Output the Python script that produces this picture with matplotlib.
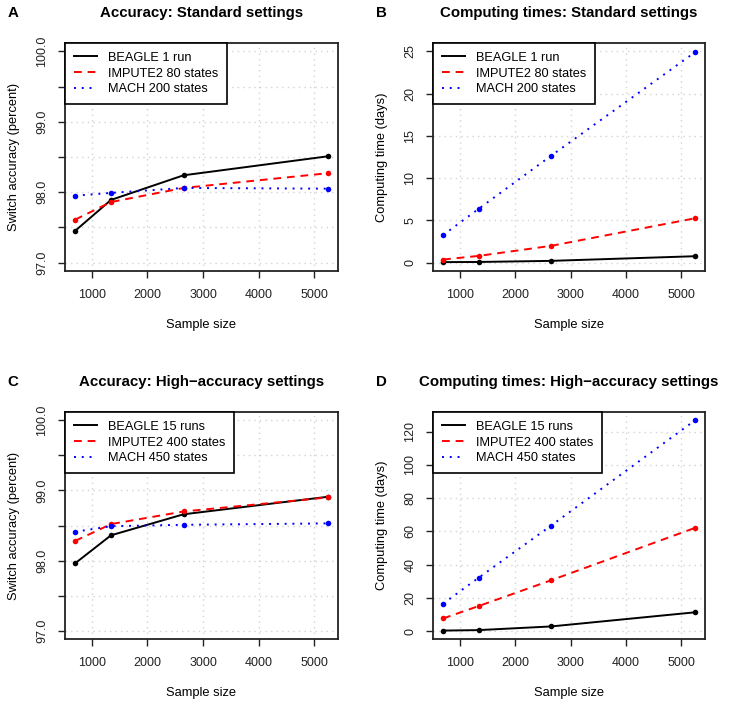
import matplotlib
matplotlib.use("Agg")
import matplotlib.pyplot as plt
import numpy as np

plt.rcParams['font.family'] = ['Liberation Sans', 'DejaVu Sans']

# sample sizes (x axis)
sample_size = [700, 1345, 2650, 5245]

# A: accuracy, standard settings
acc_std_beagle = [97.45, 97.89, 98.24, 98.51]
acc_std_impute = [97.61, 97.86, 98.06, 98.27]
acc_std_mach = [97.95, 97.99, 98.06, 98.05]

# B: computing time (days), standard settings
time_std_beagle = [0.05, 0.07, 0.20, 0.75]
time_std_impute = [0.36, 0.79, 1.98, 5.24]
time_std_mach = [3.25, 6.38, 12.65, 24.9]

# C: accuracy, high-accuracy settings
acc_hi_beagle = [97.96, 98.36, 98.66, 98.91]
acc_hi_impute = [98.28, 98.52, 98.70, 98.90]
acc_hi_mach = [98.41, 98.49, 98.51, 98.53]

# D: computing time (days), high-accuracy settings
time_hi_beagle = [0.3, 0.6, 2.8, 11.3]
time_hi_impute = [7.6, 15.1, 30.6, 62.1]
time_hi_mach = [16.5, 32.2, 63.5, 126.8]

labels_std = ["BEAGLE 1 run", "IMPUTE2 80 states", "MACH 200 states"]
labels_hi = ["BEAGLE 15 runs", "IMPUTE2 400 states", "MACH 450 states"]

x_ticks = [1000, 2000, 3000, 4000, 5000]
acc_ticks = [97.0, 97.5, 98.0, 98.5, 99.0, 99.5, 100.0]
acc_ticklabels = ["97.0", "", "98.0", "", "99.0", "", "100.0"]
time_std_ticks = [0, 5, 10, 15, 20, 25]
time_hi_ticks = [0, 20, 40, 60, 80, 100, 120]

W, H = 729, 707
fig = plt.figure(figsize=(W / 100, H / 100), dpi=100)


def rlim(lo, hi):
    # R-style 4% padding
    d = (hi - lo) * 0.04
    return lo - d, hi + d


def panel(rect, letter, title, ylabel, series, labels, yticks, yticklabels, ylim):
    ax = fig.add_axes(rect)
    styles = [('black', None), ('red', [4, 3]), ('blue', [1, 3])]
    for ys, lab, (c, dash) in zip(series, labels, styles):
        line, = ax.plot(sample_size, ys, color=c, lw=1.4, label=lab,
                        marker='o', markersize=4, markeredgewidth=0)
        if dash:
            line.set_dashes(dash)
    ax.set_xlim(*rlim(min(sample_size), max(sample_size)))
    ax.set_ylim(*ylim)
    ax.set_xticks(x_ticks)
    ax.set_yticks(yticks)
    ax.set_yticklabels(yticklabels if yticklabels else [str(t) for t in yticks],
                       rotation=90, va='center')
    ax.grid(True, color='#d3d3d3', linestyle=(0, (1, 3)), lw=1)
    ax.set_axisbelow(True)
    ax.tick_params(labelsize=9, length=5, width=1, colors='#222222')
    ax.tick_params(axis='x', pad=8)
    ax.tick_params(axis='y', pad=7)
    for s in ax.spines.values():
        s.set_linewidth(1.3)
        s.set_color('#222222')
    ax.set_xlabel("Sample size", fontsize=9.3, labelpad=13)
    ax.set_ylabel(ylabel, fontsize=9.3, labelpad=12)
    ax.set_title(title, fontsize=10.8, fontweight='bold', pad=19)
    leg = ax.legend(loc='upper left', borderaxespad=0, fancybox=False, framealpha=1,
                    edgecolor='black', fontsize=9.2, handlelength=1.8, handletextpad=0.9,
                    borderpad=0.68, labelspacing=0.3)
    leg.get_frame().set_linewidth(1.2)
    for h in leg.legend_handles:
        h.set_marker('')
    ax.text(-0.21, 1.13, letter, transform=ax.transAxes, fontsize=10.8,
            fontweight='bold', va='center', ha='left')
    return ax


left_a, left_b = 65 / W, 433 / W
wa, wb = 273 / W, 272 / W
bot_top, bot_bot = 1 - 271 / H, 1 - 639 / H
ha, hc = 228 / H, 227 / H

panel([left_a, bot_top, wa, ha], "A", "Accuracy: Standard settings",
      "Switch accuracy (percent)",
      [acc_std_beagle, acc_std_impute, acc_std_mach], labels_std,
      acc_ticks, acc_ticklabels, rlim(97.0, 100.0))
panel([left_b, bot_top, wb, ha], "B", "Computing times: Standard settings",
      "Computing time (days)",
      [time_std_beagle, time_std_impute, time_std_mach], labels_std,
      time_std_ticks, None, rlim(0, 25))
panel([left_a, bot_bot, wa, hc], "C", "Accuracy: High\u2212accuracy settings",
      "Switch accuracy (percent)",
      [acc_hi_beagle, acc_hi_impute, acc_hi_mach], labels_hi,
      acc_ticks, acc_ticklabels, rlim(97.0, 100.0))
panel([left_b, bot_bot, wb, hc], "D", "Computing times: High\u2212accuracy settings",
      "Computing time (days)",
      [time_hi_beagle, time_hi_impute, time_hi_mach], labels_hi,
      time_hi_ticks, None, rlim(0.3, 126.8))

fig.savefig("out.png", dpi=100)
